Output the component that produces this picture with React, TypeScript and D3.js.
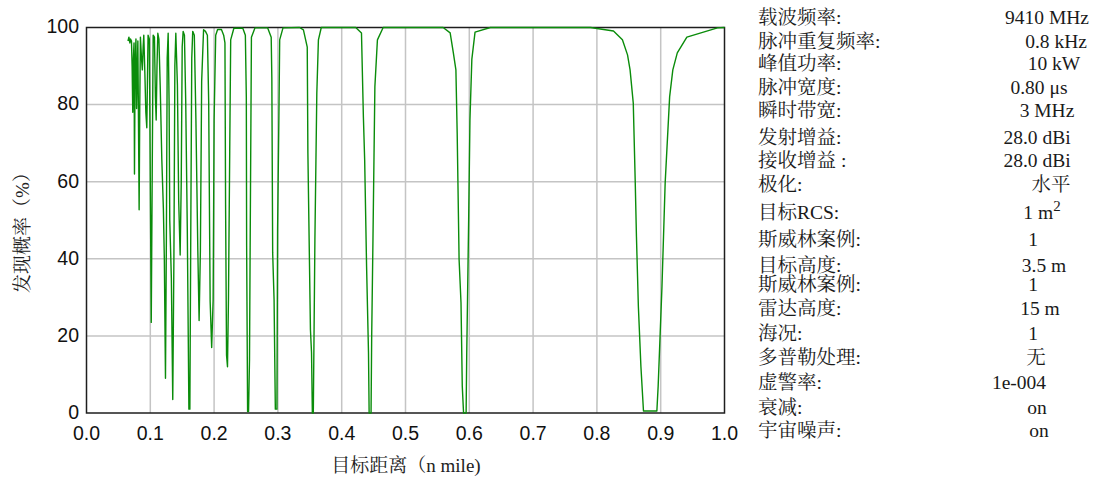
import React from 'react';
import * as d3 from 'd3';

// axis ticks
const X_TICKS = [0, 0.1, 0.2, 0.3, 0.4, 0.5, 0.6, 0.7, 0.8, 0.9, 1.0];
const Y_TICKS = [0, 20, 40, 60, 80, 100];

// detection probability (%) vs target range (n mile)
const PD_CURVE: [number, number][] = [
  [0.065, 96.5], [0.0665, 97.5], [0.068, 96], [0.069, 97], [0.0705, 96.5],
  [0.0715, 90], [0.0725, 78], [0.0735, 92], [0.0745, 96], [0.0752, 62],
  [0.0762, 90], [0.0775, 97], [0.0785, 79], [0.0795, 88], [0.0805, 96.5],
  [0.0815, 75], [0.0825, 52.7], [0.0835, 80], [0.0845, 97.5], [0.0862, 92],
  [0.0875, 89], [0.0888, 95], [0.0898, 98], [0.0915, 88], [0.093, 78],
  [0.0945, 74], [0.0955, 86], [0.0965, 98], [0.0985, 97], [0.1, 60],
  [0.1015, 23.5], [0.103, 62], [0.1045, 98], [0.1065, 97.5], [0.108, 82],
  [0.1092, 76], [0.1105, 90], [0.1118, 98.5], [0.1135, 97], [0.1155, 85],
  [0.118, 66], [0.1205, 53], [0.122, 40], [0.1238, 9], [0.1252, 45],
  [0.1265, 92], [0.128, 98.5], [0.1295, 80], [0.1305, 50], [0.133, 35],
  [0.1352, 3.5], [0.137, 40], [0.1385, 90], [0.14, 98.5], [0.1425, 85],
  [0.1445, 55], [0.1468, 41], [0.1485, 60], [0.15, 95], [0.1515, 99],
  [0.1535, 98], [0.1555, 81], [0.158, 47.5], [0.1605, 1], [0.162, 1],
  [0.1637, 55], [0.165, 92], [0.1665, 99],
  [0.169, 98], [0.1715, 76], [0.1745, 42], [0.1765, 24], [0.1785, 42],
  [0.1805, 86], [0.1835, 99.4],
  [0.1865, 99], [0.1895, 98], [0.1915, 81], [0.1938, 29], [0.1962, 17],
  [0.1985, 29.4], [0.2, 76], [0.2025, 98], [0.2055, 99.5],
  [0.2115, 99.5], [0.215, 98], [0.217, 96], [0.218, 54], [0.2195, 15],
  [0.221, 12], [0.2225, 29.4], [0.2245, 68], [0.226, 96.8], [0.231, 99.8],
  [0.245, 99.8], [0.249, 98], [0.2505, 82], [0.251, 43.4], [0.2525, 0.4],
  [0.254, 0.4], [0.2555, 13.9], [0.2565, 43], [0.2585, 97.5], [0.264, 99.9],
  [0.284, 99.9], [0.2895, 97.5], [0.2905, 87], [0.2918, 41.6], [0.294, 29.4],
  [0.296, 1], [0.2985, 1], [0.2995, 47.5], [0.3015, 76], [0.3028, 96.8],
  [0.308, 99.9],
  [0.334, 100], [0.34, 99.4], [0.346, 94.9], [0.347, 67.5], [0.351, 21.6],
  [0.3527, 15.7], [0.354, 0], [0.3555, 0], [0.358, 45], [0.361, 83],
  [0.3635, 96.8], [0.368, 100],
  [0.422, 100], [0.431, 98.6], [0.434, 76.8], [0.436, 65.7], [0.439, 38],
  [0.442, 15.7], [0.443, 0], [0.446, 0], [0.447, 19.8], [0.449, 45],
  [0.452, 84.6], [0.456, 96.8], [0.465, 100],
  [0.559, 100], [0.57, 98.6], [0.575, 93.4], [0.579, 89], [0.581, 72.7],
  [0.584, 39.8], [0.587, 28.6], [0.589, 6.9], [0.591, 0], [0.595, 0],
  [0.596, 15.7], [0.599, 50.1], [0.601, 76], [0.604, 91.8], [0.609, 98.8],
  [0.633, 100],
  [0.79, 100], [0.826, 99.1], [0.84, 96.8], [0.848, 92.9], [0.852, 89],
  [0.857, 80.4], [0.86, 60.5], [0.862, 45.7], [0.865, 27.6], [0.869, 12],
  [0.873, 0.5], [0.894, 0.5], [0.896, 6.9], [0.902, 32.8], [0.907, 59.7],
  [0.914, 82], [0.919, 89], [0.926, 93.4], [0.941, 97.5], [0.989, 99.9],
  [1.0, 100],
];

const PARAM_LABELS = [
  '载波频率:', '脉冲重复频率:', '峰值功率:', '脉冲宽度:', '瞬时带宽:',
  '发射增益:', '接收增益 :', '极化:', '目标RCS:', '斯威林案例:',
  '目标高度:', '斯威林案例:', '雷达高度:', '海况:', '多普勒处理:',
  '虚警率:', '衰减:', '宇宙噪声:',
];
const PARAM_VALUES = [
  '9410 MHz', '0.8 kHz', '10 kW', '0.80 μs', '3 MHz',
  '28.0 dBi', '28.0 dBi', '水平', '1 m', '1',
  '3.5 m', '1', '15 m', '1', '无',
  '1e-004', 'on', 'on',
];

// layout of the parameter panel
const ROW_Y = [17, 41, 63, 87, 110, 137, 160, 184, 212, 239, 265, 284, 308, 333, 357, 382, 407, 430];
const VALUE_X = [1047, 1056, 1054, 1039, 1047, 1037, 1037, 1051, 1042, 1033, 1044, 1033, 1040, 1033, 1036, 1019, 1037, 1039];

const W = 1095;
const H = 479;
const SANS = '"Liberation Sans", Arial, sans-serif';
const SERIF = '"Liberation Serif", "Times New Roman", "Noto Serif CJK SC", "Noto Sans CJK SC", serif';

export default function App() {
  const x = d3.scaleLinear().domain([0, 1]).range([86.5, 724.5]);
  const y = d3.scaleLinear().domain([0, 100]).range([413, 27.5]);
  const line = d3.line<[number, number]>()
    .x(d => x(d[0]))
    .y(d => y(d[1]));

  return (
    <svg width={W} height={H} style={{ position: 'absolute', left: 0, top: 0, background: '#fff' }}>
      {/* grid */}
      {X_TICKS.slice(1, -1).map(t => (
        <line key={'gx' + t} x1={x(t)} x2={x(t)} y1={y(0)} y2={y(100)} stroke="#c4c4c4" strokeWidth={1.5} />
      ))}
      {Y_TICKS.slice(1, -1).map(t => (
        <line key={'gy' + t} x1={x(0)} x2={x(1)} y1={y(t)} y2={y(t)} stroke="#c4c4c4" strokeWidth={1.5} />
      ))}

      {/* frame */}
      <rect x={x(0)} y={y(100)} width={x(1) - x(0)} height={y(0) - y(100)} fill="none" stroke="#1e1e1e" strokeWidth={1.5} />

      {/* detection probability */}
      <path d={line(PD_CURVE) || ''} fill="none" stroke="#0a8c0a" strokeWidth={1.4} strokeLinejoin="round" />

      {/* tick labels */}
      {Y_TICKS.map(t => (
        <text key={'ty' + t} x={79} y={y(t) - 1} dy="0.35em" textAnchor="end" fontFamily={SANS} fontSize={19.5} fill="#111">
          {t}
        </text>
      ))}
      {X_TICKS.map(t => (
        <text key={'tx' + t} x={x(t)} y={439.5} textAnchor="middle" fontFamily={SANS} fontSize={19.5} fill="#111">
          {t.toFixed(1)}
        </text>
      ))}

      {/* axis titles */}
      <text x={406} y={465} dy="0.35em" textAnchor="middle" fontFamily={SERIF} fontSize={19} fill="#222">
        目标距离（n mile)
      </text>
      <text transform="translate(22,228) rotate(-90)" dy="0.35em" textAnchor="middle" fontFamily={SERIF} fontSize={19} fill="#222">
        发现概率（%）
      </text>

      {/* parameter panel */}
      {PARAM_LABELS.map((lab, i) => (
        <text key={'pl' + i} x={758} y={ROW_Y[i]} dy="0.35em" fontFamily={SERIF} fontSize={19.5} fill="#1a1a1a">
          {lab}
        </text>
      ))}
      {PARAM_VALUES.map((val, i) => (
        <text key={'pv' + i} x={VALUE_X[i]} y={ROW_Y[i]} dy="0.35em" textAnchor="middle" fontFamily={SERIF} fontSize={19.5} fill="#1a1a1a">
          {val}
          {i === 8 ? <tspan dy="-0.55em" fontSize={15}>2</tspan> : null}
        </text>
      ))}
    </svg>
  );
}
